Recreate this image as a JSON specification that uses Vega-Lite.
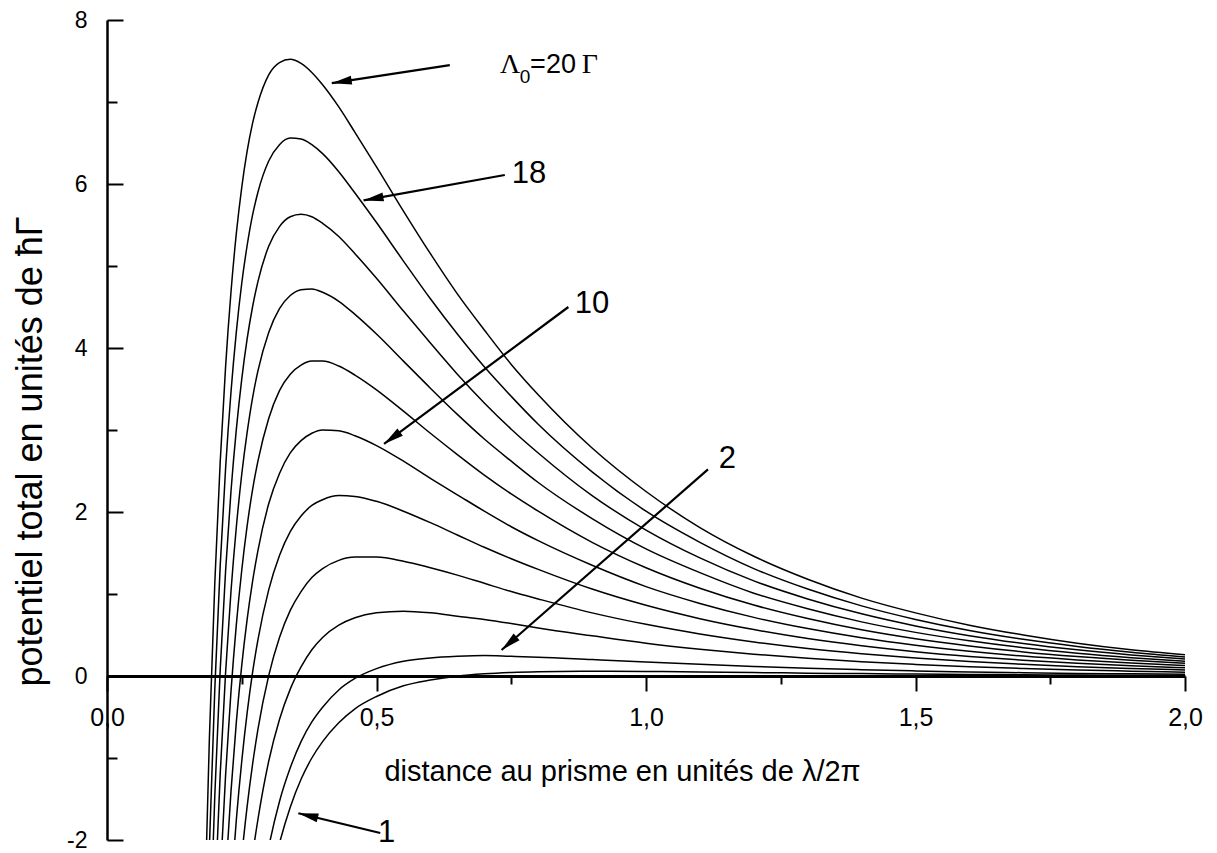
{
  "$schema": "https://vega.github.io/schema/vega-lite/v6.json",
  "width": 1078,
  "height": 820,
  "autosize": {"type": "none"},
  "padding": {"left": 107, "top": 20, "right": 32, "bottom": 13},
  "background": "white",
  "config": {
    "view": {"stroke": null},
    "font": "Liberation Sans",
    "axis": {"labelFont": "Liberation Sans", "titleFont": "Liberation Sans"},
    "text": {"font": "Liberation Sans"}
  },
  "datasets": {
    "curves": [
      {"L":20,"x":0.18,"y":-3.18},{"L":20,"x":0.19,"y":-0.75},{"L":20,"x":0.20,"y":1.13},{"L":20,"x":0.21,"y":2.61},{"L":20,"x":0.22,"y":3.77},{"L":20,"x":0.23,"y":4.68},{"L":20,"x":0.24,"y":5.40},{"L":20,"x":0.25,"y":5.96},{"L":20,"x":0.26,"y":6.40},{"L":20,"x":0.27,"y":6.74},{"L":20,"x":0.28,"y":6.99},{"L":20,"x":0.30,"y":7.33},{"L":20,"x":0.32,"y":7.48},{"L":20,"x":0.34,"y":7.52},{"L":20,"x":0.36,"y":7.47},{"L":20,"x":0.38,"y":7.36},{"L":20,"x":0.40,"y":7.21},{"L":20,"x":0.43,"y":6.94},{"L":20,"x":0.46,"y":6.63},{"L":20,"x":0.50,"y":6.21},{"L":20,"x":0.55,"y":5.67},{"L":20,"x":0.60,"y":5.15},{"L":20,"x":0.65,"y":4.66},{"L":20,"x":0.70,"y":4.22},{"L":20,"x":0.75,"y":3.80},{"L":20,"x":0.80,"y":3.43},{"L":20,"x":0.90,"y":2.78},{"L":20,"x":1.0,"y":2.25},{"L":20,"x":1.1,"y":1.81},{"L":20,"x":1.2,"y":1.46},{"L":20,"x":1.3,"y":1.18},{"L":20,"x":1.4,"y":0.95},{"L":20,"x":1.5,"y":0.77},{"L":20,"x":1.6,"y":0.62},{"L":20,"x":1.7,"y":0.50},{"L":20,"x":1.8,"y":0.40},{"L":20,"x":1.9,"y":0.32},{"L":20,"x":2.0,"y":0.26},
      {"L":18,"x":0.18,"y":-4.54},{"L":18,"x":0.19,"y":-2.08},{"L":18,"x":0.20,"y":-0.16},{"L":18,"x":0.21,"y":1.34},{"L":18,"x":0.22,"y":2.53},{"L":18,"x":0.23,"y":3.46},{"L":18,"x":0.24,"y":4.20},{"L":18,"x":0.25,"y":4.79},{"L":18,"x":0.26,"y":5.25},{"L":18,"x":0.27,"y":5.62},{"L":18,"x":0.28,"y":5.90},{"L":18,"x":0.30,"y":6.28},{"L":18,"x":0.32,"y":6.48},{"L":18,"x":0.34,"y":6.56},{"L":18,"x":0.36,"y":6.55},{"L":18,"x":0.38,"y":6.48},{"L":18,"x":0.40,"y":6.37},{"L":18,"x":0.43,"y":6.15},{"L":18,"x":0.46,"y":5.89},{"L":18,"x":0.50,"y":5.53},{"L":18,"x":0.55,"y":5.06},{"L":18,"x":0.60,"y":4.60},{"L":18,"x":0.65,"y":4.17},{"L":18,"x":0.70,"y":3.77},{"L":18,"x":0.75,"y":3.41},{"L":18,"x":0.80,"y":3.07},{"L":18,"x":0.90,"y":2.49},{"L":18,"x":1.0,"y":2.01},{"L":18,"x":1.1,"y":1.63},{"L":18,"x":1.2,"y":1.31},{"L":18,"x":1.3,"y":1.06},{"L":18,"x":1.4,"y":0.855},{"L":18,"x":1.5,"y":0.69},{"L":18,"x":1.6,"y":0.555},{"L":18,"x":1.7,"y":0.447},{"L":18,"x":1.8,"y":0.36},{"L":18,"x":1.9,"y":0.29},{"L":18,"x":2.0,"y":0.233},
      {"L":16,"x":0.19,"y":-3.41},{"L":16,"x":0.20,"y":-1.46},{"L":16,"x":0.21,"y":0.07},{"L":16,"x":0.22,"y":1.28},{"L":16,"x":0.23,"y":2.25},{"L":16,"x":0.24,"y":3.01},{"L":16,"x":0.25,"y":3.62},{"L":16,"x":0.26,"y":4.11},{"L":16,"x":0.27,"y":4.50},{"L":16,"x":0.28,"y":4.81},{"L":16,"x":0.30,"y":5.24},{"L":16,"x":0.32,"y":5.48},{"L":16,"x":0.34,"y":5.60},{"L":16,"x":0.36,"y":5.63},{"L":16,"x":0.38,"y":5.60},{"L":16,"x":0.40,"y":5.52},{"L":16,"x":0.43,"y":5.36},{"L":16,"x":0.46,"y":5.15},{"L":16,"x":0.50,"y":4.85},{"L":16,"x":0.55,"y":4.45},{"L":16,"x":0.60,"y":4.06},{"L":16,"x":0.65,"y":3.68},{"L":16,"x":0.70,"y":3.33},{"L":16,"x":0.75,"y":3.01},{"L":16,"x":0.80,"y":2.72},{"L":16,"x":0.90,"y":2.20},{"L":16,"x":1.0,"y":1.78},{"L":16,"x":1.1,"y":1.44},{"L":16,"x":1.2,"y":1.16},{"L":16,"x":1.3,"y":0.94},{"L":16,"x":1.4,"y":0.758},{"L":16,"x":1.5,"y":0.611},{"L":16,"x":1.6,"y":0.492},{"L":16,"x":1.7,"y":0.396},{"L":16,"x":1.8,"y":0.319},{"L":16,"x":1.9,"y":0.257},{"L":16,"x":2.0,"y":0.207},
      {"L":14,"x":0.20,"y":-2.76},{"L":14,"x":0.21,"y":-1.20},{"L":14,"x":0.22,"y":0.04},{"L":14,"x":0.23,"y":1.03},{"L":14,"x":0.24,"y":1.82},{"L":14,"x":0.25,"y":2.46},{"L":14,"x":0.26,"y":2.97},{"L":14,"x":0.27,"y":3.39},{"L":14,"x":0.28,"y":3.72},{"L":14,"x":0.30,"y":4.19},{"L":14,"x":0.32,"y":4.48},{"L":14,"x":0.34,"y":4.64},{"L":14,"x":0.36,"y":4.71},{"L":14,"x":0.38,"y":4.72},{"L":14,"x":0.40,"y":4.68},{"L":14,"x":0.43,"y":4.57},{"L":14,"x":0.46,"y":4.41},{"L":14,"x":0.50,"y":4.17},{"L":14,"x":0.55,"y":3.84},{"L":14,"x":0.60,"y":3.51},{"L":14,"x":0.65,"y":3.19},{"L":14,"x":0.70,"y":2.89},{"L":14,"x":0.75,"y":2.62},{"L":14,"x":0.80,"y":2.36},{"L":14,"x":0.90,"y":1.92},{"L":14,"x":1.0,"y":1.55},{"L":14,"x":1.1,"y":1.26},{"L":14,"x":1.2,"y":1.01},{"L":14,"x":1.3,"y":0.82},{"L":14,"x":1.4,"y":0.66},{"L":14,"x":1.5,"y":0.532},{"L":14,"x":1.6,"y":0.429},{"L":14,"x":1.7,"y":0.345},{"L":14,"x":1.8,"y":0.278},{"L":14,"x":1.9,"y":0.224},{"L":14,"x":2.0,"y":0.18},
      {"L":12,"x":0.21,"y":-2.48},{"L":12,"x":0.22,"y":-1.21},{"L":12,"x":0.23,"y":-0.19},{"L":12,"x":0.24,"y":0.63},{"L":12,"x":0.25,"y":1.29},{"L":12,"x":0.26,"y":1.83},{"L":12,"x":0.27,"y":2.27},{"L":12,"x":0.28,"y":2.62},{"L":12,"x":0.30,"y":3.14},{"L":12,"x":0.32,"y":3.48},{"L":12,"x":0.34,"y":3.68},{"L":12,"x":0.36,"y":3.79},{"L":12,"x":0.38,"y":3.84},{"L":12,"x":0.40,"y":3.84},{"L":12,"x":0.43,"y":3.78},{"L":12,"x":0.46,"y":3.67},{"L":12,"x":0.50,"y":3.49},{"L":12,"x":0.55,"y":3.23},{"L":12,"x":0.60,"y":2.96},{"L":12,"x":0.65,"y":2.70},{"L":12,"x":0.70,"y":2.45},{"L":12,"x":0.75,"y":2.22},{"L":12,"x":0.80,"y":2.01},{"L":12,"x":0.90,"y":1.63},{"L":12,"x":1.0,"y":1.32},{"L":12,"x":1.1,"y":1.07},{"L":12,"x":1.2,"y":0.865},{"L":12,"x":1.3,"y":0.70},{"L":12,"x":1.4,"y":0.563},{"L":12,"x":1.5,"y":0.454},{"L":12,"x":1.6,"y":0.366},{"L":12,"x":1.7,"y":0.294},{"L":12,"x":1.8,"y":0.237},{"L":12,"x":1.9,"y":0.191},{"L":12,"x":2.0,"y":0.154},
      {"L":10,"x":0.22,"y":-2.45},{"L":10,"x":0.23,"y":-1.41},{"L":10,"x":0.24,"y":-0.56},{"L":10,"x":0.25,"y":0.13},{"L":10,"x":0.26,"y":0.69},{"L":10,"x":0.27,"y":1.15},{"L":10,"x":0.28,"y":1.53},{"L":10,"x":0.30,"y":2.10},{"L":10,"x":0.32,"y":2.47},{"L":10,"x":0.34,"y":2.72},{"L":10,"x":0.36,"y":2.87},{"L":10,"x":0.38,"y":2.96},{"L":10,"x":0.40,"y":3.00},{"L":10,"x":0.43,"y":2.99},{"L":10,"x":0.46,"y":2.93},{"L":10,"x":0.50,"y":2.81},{"L":10,"x":0.55,"y":2.62},{"L":10,"x":0.60,"y":2.41},{"L":10,"x":0.65,"y":2.21},{"L":10,"x":0.70,"y":2.01},{"L":10,"x":0.75,"y":1.82},{"L":10,"x":0.80,"y":1.65},{"L":10,"x":0.90,"y":1.35},{"L":10,"x":1.0,"y":1.09},{"L":10,"x":1.1,"y":0.885},{"L":10,"x":1.2,"y":0.715},{"L":10,"x":1.3,"y":0.578},{"L":10,"x":1.4,"y":0.466},{"L":10,"x":1.5,"y":0.376},{"L":10,"x":1.6,"y":0.303},{"L":10,"x":1.7,"y":0.243},{"L":10,"x":1.8,"y":0.196},{"L":10,"x":1.9,"y":0.158},{"L":10,"x":2.0,"y":0.127},
      {"L":8,"x":0.23,"y":-2.62},{"L":8,"x":0.24,"y":-1.75},{"L":8,"x":0.25,"y":-1.04},{"L":8,"x":0.26,"y":-0.45},{"L":8,"x":0.27,"y":0.04},{"L":8,"x":0.28,"y":0.44},{"L":8,"x":0.30,"y":1.05},{"L":8,"x":0.32,"y":1.47},{"L":8,"x":0.34,"y":1.76},{"L":8,"x":0.36,"y":1.95},{"L":8,"x":0.38,"y":2.08},{"L":8,"x":0.40,"y":2.15},{"L":8,"x":0.43,"y":2.20},{"L":8,"x":0.46,"y":2.19},{"L":8,"x":0.50,"y":2.13},{"L":8,"x":0.55,"y":2.01},{"L":8,"x":0.60,"y":1.87},{"L":8,"x":0.65,"y":1.72},{"L":8,"x":0.70,"y":1.57},{"L":8,"x":0.75,"y":1.43},{"L":8,"x":0.80,"y":1.30},{"L":8,"x":0.90,"y":1.06},{"L":8,"x":1.0,"y":0.862},{"L":8,"x":1.1,"y":0.699},{"L":8,"x":1.2,"y":0.566},{"L":8,"x":1.3,"y":0.457},{"L":8,"x":1.4,"y":0.369},{"L":8,"x":1.5,"y":0.297},{"L":8,"x":1.6,"y":0.239},{"L":8,"x":1.7,"y":0.193},{"L":8,"x":1.8,"y":0.155},{"L":8,"x":1.9,"y":0.125},{"L":8,"x":2.0,"y":0.10},
      {"L":6,"x":0.24,"y":-2.94},{"L":6,"x":0.25,"y":-2.20},{"L":6,"x":0.26,"y":-1.59},{"L":6,"x":0.27,"y":-1.08},{"L":6,"x":0.28,"y":-0.65},{"L":6,"x":0.30,"y":0.005},{"L":6,"x":0.32,"y":0.47},{"L":6,"x":0.34,"y":0.80},{"L":6,"x":0.36,"y":1.03},{"L":6,"x":0.38,"y":1.20},{"L":6,"x":0.40,"y":1.31},{"L":6,"x":0.43,"y":1.41},{"L":6,"x":0.46,"y":1.45},{"L":6,"x":0.50,"y":1.45},{"L":6,"x":0.55,"y":1.40},{"L":6,"x":0.60,"y":1.32},{"L":6,"x":0.65,"y":1.23},{"L":6,"x":0.70,"y":1.13},{"L":6,"x":0.75,"y":1.03},{"L":6,"x":0.80,"y":0.94},{"L":6,"x":0.90,"y":0.77},{"L":6,"x":1.0,"y":0.63},{"L":6,"x":1.1,"y":0.513},{"L":6,"x":1.2,"y":0.416},{"L":6,"x":1.3,"y":0.336},{"L":6,"x":1.4,"y":0.272},{"L":6,"x":1.5,"y":0.219},{"L":6,"x":1.6,"y":0.176},{"L":6,"x":1.7,"y":0.142},{"L":6,"x":1.8,"y":0.114},{"L":6,"x":1.9,"y":0.092},{"L":6,"x":2.0,"y":0.074},
      {"L":4,"x":0.26,"y":-2.73},{"L":4,"x":0.27,"y":-2.19},{"L":4,"x":0.28,"y":-1.75},{"L":4,"x":0.30,"y":-1.04},{"L":4,"x":0.32,"y":-0.53},{"L":4,"x":0.34,"y":-0.16},{"L":4,"x":0.36,"y":0.11},{"L":4,"x":0.38,"y":0.32},{"L":4,"x":0.40,"y":0.47},{"L":4,"x":0.43,"y":0.62},{"L":4,"x":0.46,"y":0.71},{"L":4,"x":0.50,"y":0.77},{"L":4,"x":0.55,"y":0.79},{"L":4,"x":0.60,"y":0.77},{"L":4,"x":0.65,"y":0.73},{"L":4,"x":0.70,"y":0.69},{"L":4,"x":0.75,"y":0.64},{"L":4,"x":0.80,"y":0.585},{"L":4,"x":0.90,"y":0.49},{"L":4,"x":1.0,"y":0.40},{"L":4,"x":1.1,"y":0.327},{"L":4,"x":1.2,"y":0.266},{"L":4,"x":1.3,"y":0.216},{"L":4,"x":1.4,"y":0.174},{"L":4,"x":1.5,"y":0.141},{"L":4,"x":1.6,"y":0.113},{"L":4,"x":1.7,"y":0.091},{"L":4,"x":1.8,"y":0.073},{"L":4,"x":1.9,"y":0.059},{"L":4,"x":2.0,"y":0.047},
      {"L":2,"x":0.28,"y":-2.84},{"L":2,"x":0.30,"y":-2.09},{"L":2,"x":0.32,"y":-1.53},{"L":2,"x":0.34,"y":-1.12},{"L":2,"x":0.36,"y":-0.80},{"L":2,"x":0.38,"y":-0.56},{"L":2,"x":0.40,"y":-0.38},{"L":2,"x":0.43,"y":-0.17},{"L":2,"x":0.46,"y":-0.03},{"L":2,"x":0.50,"y":0.09},{"L":2,"x":0.55,"y":0.18},{"L":2,"x":0.60,"y":0.22},{"L":2,"x":0.65,"y":0.24},{"L":2,"x":0.70,"y":0.25},{"L":2,"x":0.75,"y":0.24},{"L":2,"x":0.80,"y":0.23},{"L":2,"x":0.90,"y":0.20},{"L":2,"x":1.0,"y":0.17},{"L":2,"x":1.1,"y":0.142},{"L":2,"x":1.2,"y":0.117},{"L":2,"x":1.3,"y":0.095},{"L":2,"x":1.4,"y":0.077},{"L":2,"x":1.5,"y":0.062},{"L":2,"x":1.6,"y":0.05},{"L":2,"x":1.7,"y":0.04},{"L":2,"x":1.8,"y":0.032},{"L":2,"x":1.9,"y":0.026},{"L":2,"x":2.0,"y":0.021},
      {"L":1,"x":0.30,"y":-2.61},{"L":1,"x":0.32,"y":-2.04},{"L":1,"x":0.34,"y":-1.60},{"L":1,"x":0.36,"y":-1.26},{"L":1,"x":0.38,"y":-1.00},{"L":1,"x":0.40,"y":-0.80},{"L":1,"x":0.43,"y":-0.57},{"L":1,"x":0.46,"y":-0.40},{"L":1,"x":0.50,"y":-0.25},{"L":1,"x":0.55,"y":-0.12},{"L":1,"x":0.60,"y":-0.05},{"L":1,"x":0.65,"y":-0.002},{"L":1,"x":0.70,"y":0.026},{"L":1,"x":0.75,"y":0.043},{"L":1,"x":0.80,"y":0.052},{"L":1,"x":0.90,"y":0.058},{"L":1,"x":1.0,"y":0.055},{"L":1,"x":1.1,"y":0.049},{"L":1,"x":1.2,"y":0.042},{"L":1,"x":1.3,"y":0.035},{"L":1,"x":1.4,"y":0.029},{"L":1,"x":1.5,"y":0.023},{"L":1,"x":1.6,"y":0.019},{"L":1,"x":1.7,"y":0.015},{"L":1,"x":1.8,"y":0.012},{"L":1,"x":1.9,"y":0.009},{"L":1,"x":2.0,"y":0.007}
    ],
    "arrows": [
      {"id":"20","x":0.636,"y":7.45,"x2":0.417,"y2":7.23},
      {"id":"18","x":0.738,"y":6.11,"x2":0.476,"y2":5.80},
      {"id":"10","x":0.856,"y":4.50,"x2":0.514,"y2":2.83},
      {"id":"2","x":1.115,"y":2.52,"x2":0.732,"y2":0.317},
      {"id":"1","x":0.507,"y":-1.915,"x2":0.355,"y2":-1.674}
    ],
    "serif": [
      {"t":"Λ","x":0.729,"y":7.354},
      {"t":"Γ","x":0.881,"y":7.354}
    ],
    "sub": [
      {"t":"0","x":0.766,"y":7.232}
    ],
    "mid": [
      {"t":"=20","x":0.785,"y":7.354}
    ],
    "big": [
      {"t":"18","x":0.751,"y":6.012},
      {"t":"10","x":0.868,"y":4.427},
      {"t":"2","x":1.135,"y":2.537},
      {"t":"1","x":0.503,"y":-2.024}
    ]
  },
  "layer": [
    {
      "data": {"name": "curves"},
      "mark": {"type": "line", "color": "black", "strokeWidth": 1.5, "interpolate": "monotone", "clip": true},
      "encoding": {
        "x": {
          "field": "x", "type": "quantitative",
          "scale": {"domain": [0, 2], "nice": false, "zero": false},
          "axis": {
            "title": "distance au prisme en unités de λ/2π",
            "values": [0, 0.25, 0.5, 0.75, 1, 1.25, 1.5, 1.75, 2],
            "offset": -164,
            "grid": false,
            "domainColor": "black", "domainWidth": 3,
            "tickColor": "black", "tickWidth": 2,
            "tickSize": {"condition": {"test": "datum.value % 0.5 === 0", "value": 15}, "value": 8},
            "labelExpr": "datum.value % 0.5 === 0 ? replace(format(datum.value, '.1f'), '.', ',') : ''",
            "labelFontSize": 25, "labelColor": "black", "labelPadding": 14,
            "labelFlush": false, "labelOverlap": false,
            "titleFontSize": 29, "titleFontWeight": "normal", "titleColor": "black",
            "titleX": 515, "titleY": 104, "titleBaseline": "alphabetic", "titleAlign": "center"
          }
        },
        "y": {
          "field": "y", "type": "quantitative",
          "scale": {"domain": [-2, 8], "nice": false, "zero": false},
          "axis": {
            "title": "potentiel total en unités de ħΓ",
            "values": [-2, -1, 0, 1, 2, 3, 4, 5, 6, 7, 8],
            "grid": false,
            "domainColor": "black", "domainWidth": 2.5,
            "tickColor": "black", "tickWidth": 2,
            "tickSize": {"condition": {"test": "datum.value % 2 === 0", "value": -16}, "value": -10},
            "labelExpr": "datum.value % 2 === 0 ? '' + datum.value : ''",
            "labelFontSize": 23, "labelColor": "black", "labelPadding": 36,
            "labelFlush": false, "labelOverlap": false,
            "titleFontSize": 36, "titleFontWeight": "normal", "titleColor": "black",
            "titleX": -66, "titleY": 431, "titleBaseline": "alphabetic", "titleAlign": "center", "titleAngle": -90
          }
        },
        "detail": {"field": "L", "type": "nominal"}
      }
    },
    {
      "data": {"name": "arrows"},
      "mark": {"type": "rule", "color": "black", "strokeWidth": 2.2},
      "encoding": {
        "x": {"field": "x", "type": "quantitative"},
        "y": {"field": "y", "type": "quantitative"},
        "x2": {"field": "x2"},
        "y2": {"field": "y2"}
      }
    },
    {
      "data": {"name": "arrows"},
      "transform": [{"filter": "datum.id === '20'"}],
      "mark": {"type": "point", "shape": "M0,0L-0.45,2L0.45,2Z", "filled": true, "color": "black", "opacity": 1, "size": 400, "angle": 261.2},
      "encoding": {
        "x": {"field": "x2", "type": "quantitative"},
        "y": {"field": "y2", "type": "quantitative"}
      }
    },
    {
      "data": {"name": "arrows"},
      "transform": [{"filter": "datum.id === '18'"}],
      "mark": {"type": "point", "shape": "M0,0L-0.45,2L0.45,2Z", "filled": true, "color": "black", "opacity": 1, "size": 400, "angle": 260},
      "encoding": {
        "x": {"field": "x2", "type": "quantitative"},
        "y": {"field": "y2", "type": "quantitative"}
      }
    },
    {
      "data": {"name": "arrows"},
      "transform": [{"filter": "datum.id === '10'"}],
      "mark": {"type": "point", "shape": "M0,0L-0.45,2L0.45,2Z", "filled": true, "color": "black", "opacity": 1, "size": 400, "angle": 233.4},
      "encoding": {
        "x": {"field": "x2", "type": "quantitative"},
        "y": {"field": "y2", "type": "quantitative"}
      }
    },
    {
      "data": {"name": "arrows"},
      "transform": [{"filter": "datum.id === '2'"}],
      "mark": {"type": "point", "shape": "M0,0L-0.45,2L0.45,2Z", "filled": true, "color": "black", "opacity": 1, "size": 400, "angle": 228.7},
      "encoding": {
        "x": {"field": "x2", "type": "quantitative"},
        "y": {"field": "y2", "type": "quantitative"}
      }
    },
    {
      "data": {"name": "arrows"},
      "transform": [{"filter": "datum.id === '1'"}],
      "mark": {"type": "point", "shape": "M0,0L-0.45,2L0.45,2Z", "filled": true, "color": "black", "opacity": 1, "size": 400, "angle": 283.6},
      "encoding": {
        "x": {"field": "x2", "type": "quantitative"},
        "y": {"field": "y2", "type": "quantitative"}
      }
    },
    {
      "data": {"name": "serif"},
      "mark": {"type": "text", "font": "Liberation Serif", "fontSize": 28, "align": "left", "baseline": "alphabetic", "color": "black"},
      "encoding": {
        "x": {"field": "x", "type": "quantitative"},
        "y": {"field": "y", "type": "quantitative"},
        "text": {"field": "t"}
      }
    },
    {
      "data": {"name": "sub"},
      "mark": {"type": "text", "font": "Liberation Sans", "fontSize": 19, "align": "left", "baseline": "alphabetic", "color": "black"},
      "encoding": {
        "x": {"field": "x", "type": "quantitative"},
        "y": {"field": "y", "type": "quantitative"},
        "text": {"field": "t"}
      }
    },
    {
      "data": {"name": "mid"},
      "mark": {"type": "text", "font": "Liberation Sans", "fontSize": 27, "align": "left", "baseline": "alphabetic", "color": "black"},
      "encoding": {
        "x": {"field": "x", "type": "quantitative"},
        "y": {"field": "y", "type": "quantitative"},
        "text": {"field": "t"}
      }
    },
    {
      "data": {"name": "big"},
      "mark": {"type": "text", "font": "Liberation Sans", "fontSize": 31, "align": "left", "baseline": "alphabetic", "color": "black"},
      "encoding": {
        "x": {"field": "x", "type": "quantitative"},
        "y": {"field": "y", "type": "quantitative"},
        "text": {"field": "t"}
      }
    }
  ]
}
